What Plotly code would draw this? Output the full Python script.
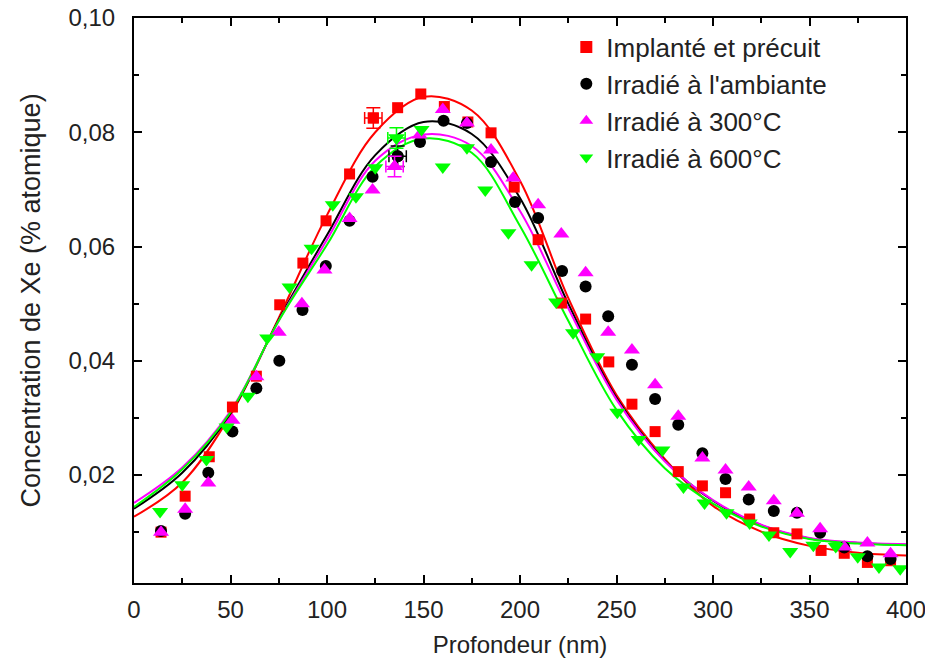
import plotly.graph_objects as go

# --- measured points (depth nm, Xe concentration) ---
x_impl = [14, 26.5, 39, 51, 63.4, 75.5, 87.5, 99.5, 111.7, 124, 136.6, 148.6, 160.8, 173, 185,
          197, 209.4, 221.5, 234, 246, 258, 270, 282, 294.5, 306.5, 319, 331.5, 343.5, 356, 368,
          380, 392]
y_impl = [0.0100, 0.0163, 0.0232, 0.0319, 0.0373, 0.0498, 0.0571, 0.0645, 0.0727, 0.0825, 0.0843,
          0.0867, 0.0845, 0.0818, 0.0799, 0.0704, 0.0612, 0.0501, 0.0473, 0.0398, 0.0324, 0.0276,
          0.0206, 0.0181, 0.0169, 0.0123, 0.0099, 0.0097, 0.0068, 0.0063, 0.0047, 0.0050]

x_amb = [14, 26.5, 38.5, 51, 63.4, 75.3, 87.3, 99.4, 111.7, 123.6, 136.6, 148.2, 160.4, 172.5, 185,
         197.4, 209.4, 221.8, 234, 245.7, 258, 270, 282, 294.5, 306.5, 318.5, 331.5, 343.5, 355.5,
         368, 380, 392]
y_amb = [0.0102, 0.0132, 0.0204, 0.0276, 0.0352, 0.0400, 0.0489, 0.0566, 0.0645, 0.0722, 0.0758,
         0.0783, 0.0820, 0.0816, 0.0748, 0.0678, 0.0650, 0.0557, 0.0530, 0.0478, 0.0393, 0.0333,
         0.0288, 0.0238, 0.0193, 0.0157, 0.0137, 0.0134, 0.0099, 0.0073, 0.0058, 0.0053]

x_300 = [14, 26.5, 38.5, 51, 63.4, 75, 87, 98.7, 111.7, 123.6, 135, 148, 160, 172.5, 185, 196.5,
         209.4, 221.4, 234, 245.7, 258, 270, 282, 294.5, 306.5, 318.5, 331.5, 343.5, 355.5, 368,
         380, 392]
y_300 = [0.0100, 0.0140, 0.0186, 0.0296, 0.0372, 0.0450, 0.0500, 0.0559, 0.0649, 0.0699, 0.0740,
         0.0795, 0.0840, 0.0816, 0.0769, 0.0720, 0.0673, 0.0622, 0.0554, 0.0450, 0.0419, 0.0358,
         0.0303, 0.0230, 0.0209, 0.0179, 0.0155, 0.0133, 0.0106, 0.0074, 0.0081, 0.0062]

x_600 = [13.5, 25, 37.5, 48, 59, 69, 80.6, 92, 103, 115, 125, 136, 149, 160, 172.5, 182, 194, 206,
         218.7, 227.5, 240, 250.4, 261.5, 273.8, 284.7, 295.6, 307, 319, 329, 340, 352, 363.6, 375,
         386, 397]
y_600 = [0.0136, 0.0183, 0.0227, 0.0284, 0.0338, 0.0440, 0.0529, 0.0597, 0.0673, 0.0687, 0.0738,
         0.0790, 0.0805, 0.0739, 0.0773, 0.0699, 0.0624, 0.0568, 0.0503, 0.0449, 0.0407, 0.0310,
         0.0262, 0.0244, 0.0179, 0.0151, 0.0134, 0.0116, 0.0095, 0.0066, 0.0077, 0.0075, 0.0057,
         0.0039, 0.0036]

# one point per series carries error bars
err_idx = {"impl": 9, "amb": 10, "300": 10, "600": 11}
err_x = 4.5
err_y = 0.0018

# --- fitted curves ---
x_fit = [0, 25, 50, 75, 100, 125, 150, 175, 200, 225, 250, 275, 300, 325, 350, 375, 400]
fit_impl = [0.0127, 0.0187, 0.0305, 0.0475, 0.0655, 0.0800, 0.0862, 0.0838, 0.0715, 0.0510,
            0.0340, 0.0228, 0.0146, 0.0101, 0.0076, 0.0064, 0.0059]
fit_amb = [0.0141, 0.0204, 0.0308, 0.0472, 0.0620, 0.0760, 0.0818, 0.0797, 0.0685, 0.0500,
           0.0335, 0.0225, 0.0155, 0.0112, 0.0089, 0.0081, 0.0078]
fit_300 = [0.0151, 0.0213, 0.0312, 0.0470, 0.0612, 0.0750, 0.0796, 0.0776, 0.0662, 0.0492,
           0.0332, 0.0224, 0.0156, 0.0113, 0.0090, 0.0082, 0.0079]
fit_600 = [0.0144, 0.0210, 0.0310, 0.0470, 0.0603, 0.0740, 0.0789, 0.0764, 0.0636, 0.0470,
           0.0314, 0.0212, 0.0150, 0.0110, 0.0088, 0.0080, 0.0077]

names = ["Implanté et précuit", "Irradié à l'ambiante", "Irradié à 300°C", "Irradié à 600°C"]
colors = ["#ff0000", "#000000", "#ff00ff", "#00ff00"]
symbols = ["square", "circle", "triangle-up", "triangle-down"]
sizes = [11, 12, 14, 14]

series = [
    ("impl", x_impl, y_impl, fit_impl),
    ("amb", x_amb, y_amb, fit_amb),
    ("300", x_300, y_300, fit_300),
    ("600", x_600, y_600, fit_600),
]

fig = go.Figure()

# fit lines first, markers on top
for (key, xs, ys, fit), col in zip(series, colors):
    fig.add_trace(go.Scatter(x=x_fit, y=fit, mode="lines", line=dict(color=col, width=2, shape="spline"),
                             showlegend=False, hoverinfo="skip"))

for (key, xs, ys, fit), name, col, sym, sz in zip(series, names, colors, symbols, sizes):
    fig.add_trace(go.Scatter(x=xs, y=ys, mode="markers", name=name,
                             marker=dict(color=col, symbol=sym, size=sz, line=dict(width=0))))
    i = err_idx[key]
    fig.add_trace(go.Scatter(x=[xs[i]], y=[ys[i]], mode="markers", showlegend=False,
                             marker=dict(color=col, symbol=sym, size=sz, line=dict(width=0)),
                             error_x=dict(type="constant", value=err_x, color=col, thickness=1.5, width=6),
                             error_y=dict(type="constant", value=err_y, color=col, thickness=1.5, width=7)))

font = "Arial, Liberation Sans, sans-serif"
axis_common = dict(
    showline=True, linecolor="black", linewidth=2, mirror="ticks",
    ticks="inside", ticklen=8, tickwidth=2, tickcolor="black",
    showgrid=False, zeroline=False, automargin=False, ticklabeloverflow="allow",
    tickfont=dict(family=font, size=24, color="#222"),
)

fig.update_xaxes(range=[0, 400], dtick=50, tick0=0, ticklabelstandoff=4,
                 minor=dict(ticks="inside", dtick=25, ticklen=5, tickwidth=2, tickcolor="black"),
                 title=dict(text="Profondeur (nm)", font=dict(family=font, size=24, color="#222"), standoff=14),
                 **axis_common)
fig.update_yaxes(range=[0.0011, 0.1], dtick=0.02, tick0=0, tickformat=".2f", ticklabelstandoff=12,
                 minor=dict(ticks="inside", dtick=0.01, ticklen=5, tickwidth=2, tickcolor="black"),
                 title=dict(text="Concentration de Xe (% atomique)", font=dict(family=font, size=27, color="#222"),
                            standoff=20),
                 **axis_common)

fig.update_layout(
    width=925, height=665,
    margin=dict(l=134, r=19, t=18, b=82),
    plot_bgcolor="white", paper_bgcolor="white",
    separators=", ",
    legend=dict(x=0.56, y=0.99, xanchor="left", yanchor="top", bgcolor="rgba(0,0,0,0)",
                font=dict(family=font, size=26, color="#222"), itemsizing="constant",
                tracegroupgap=0),
)

# drop the page's default body margin so the figure sits at the window corner
fig.write_html("out.html", config={"displayModeBar": False},
               post_script="document.body.style.margin='0';")
